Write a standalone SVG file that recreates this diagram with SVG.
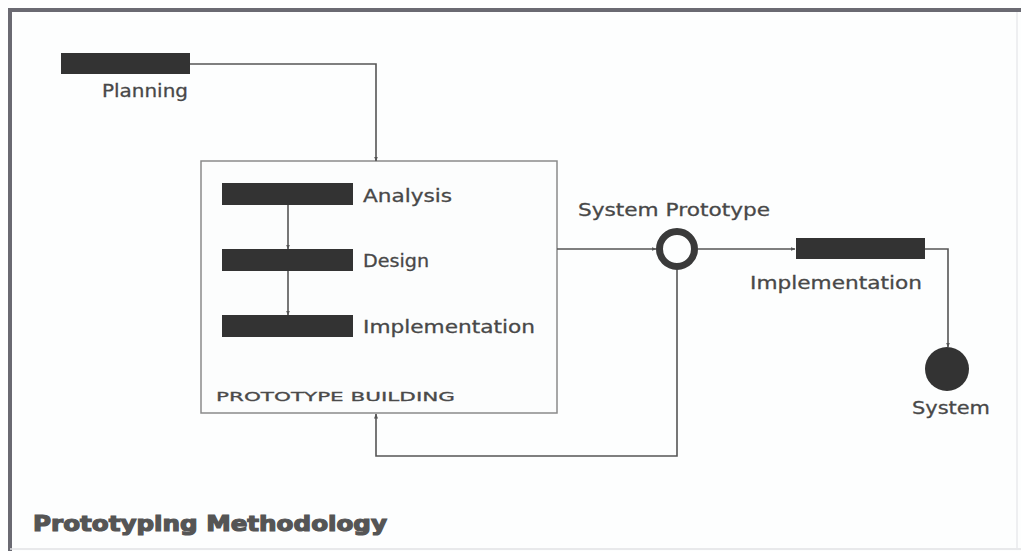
<svg xmlns="http://www.w3.org/2000/svg" width="1021" height="551" viewBox="0 0 1021 551">
<style>
.bar{fill:#333;}
.lbl{font-family:"DejaVu Sans",sans-serif;font-size:18px;fill:#484848;stroke:#484848;stroke-width:0.3;}
.con{fill:none;stroke:#555;stroke-width:1.6;}
</style>
<defs>
<marker id="arr" viewBox="0 0 10 10" refX="9" refY="5" markerWidth="5" markerHeight="5" orient="auto" markerUnits="userSpaceOnUse">
<path d="M0,1 L10,5 L0,9 z" fill="#555"/>
</marker>
</defs>
<rect x="0" y="0" width="1021" height="551" fill="#fdfefe"/>
<g id="frame">
<line x1="10" y1="10" x2="1021" y2="10" stroke="#6a6a72" stroke-width="4"/>
<line x1="10" y1="8" x2="10" y2="551" stroke="#6a6a72" stroke-width="4"/>
<line x1="1017" y1="12" x2="1017" y2="548" stroke="#e8eaec" stroke-width="1.5"/>
<line x1="10" y1="549" x2="1021" y2="549" stroke="#e0e2e4" stroke-width="1.5"/>
</g>
<g id="prototype-building">
<rect x="201" y="161" width="356" height="252" fill="#fcfdfd" stroke="#8a8a8a" stroke-width="1.5"/>
<text x="216" y="401" font-family="DejaVu Sans,sans-serif" font-size="13" fill="#4a4a4a" stroke="#4a4a4a" stroke-width="0.3" textLength="239" lengthAdjust="spacingAndGlyphs">PROTOTYPE BUILDING</text>
</g>
<g id="connectors">
<polyline class="con" points="190,64 376,64 376,161" marker-end="url(#arr)"/>
<line class="con" x1="288" y1="205" x2="288" y2="249" marker-end="url(#arr)"/>
<line class="con" x1="288" y1="271" x2="288" y2="315" marker-end="url(#arr)"/>
<line class="con" x1="557" y1="249" x2="656" y2="249" marker-end="url(#arr)"/>
<line class="con" x1="698" y1="249" x2="795" y2="249" marker-end="url(#arr)"/>
<polyline class="con" points="925,249 948,249 948,347" marker-end="url(#arr)"/>
<polyline class="con" points="677,270 677,456 376,456 376,414" marker-end="url(#arr)"/>
</g>
<g id="planning">
<rect class="bar" x="61" y="53" width="129" height="21"/>
<text class="lbl" x="102" y="97" textLength="86" lengthAdjust="spacingAndGlyphs">Planning</text>
</g>
<g id="analysis">
<rect class="bar" x="222" y="183" width="131" height="22"/>
<text class="lbl" x="363" y="202" textLength="89" lengthAdjust="spacingAndGlyphs">Analysis</text>
</g>
<g id="design">
<rect class="bar" x="222" y="249" width="131" height="22"/>
<text class="lbl" x="363" y="267" textLength="66" lengthAdjust="spacingAndGlyphs">Design</text>
</g>
<g id="implementation-proto">
<rect class="bar" x="222" y="315" width="131" height="22"/>
<text class="lbl" x="363" y="333" textLength="172" lengthAdjust="spacingAndGlyphs">Implementation</text>
</g>
<g id="system-prototype">
<circle cx="677" cy="249" r="17.5" fill="#fdfefe" stroke="#3a3a3a" stroke-width="7"/>
<text class="lbl" x="578" y="216" textLength="192" lengthAdjust="spacingAndGlyphs">System Prototype</text>
</g>
<g id="implementation">
<rect class="bar" x="796" y="238" width="129" height="21"/>
<text class="lbl" x="750" y="289" textLength="172" lengthAdjust="spacingAndGlyphs">Implementation</text>
</g>
<g id="system">
<circle cx="947" cy="369" r="22" fill="#333"/>
<text class="lbl" x="912" y="414" textLength="78" lengthAdjust="spacingAndGlyphs">System</text>
</g>
<g id="title">
<text x="33" y="531" font-family="DejaVu Sans,sans-serif" font-weight="bold" font-size="21" fill="#555" stroke="#555" stroke-width="1.2" textLength="354" lengthAdjust="spacingAndGlyphs">Prototyping Methodology</text>
</g>
</svg>
